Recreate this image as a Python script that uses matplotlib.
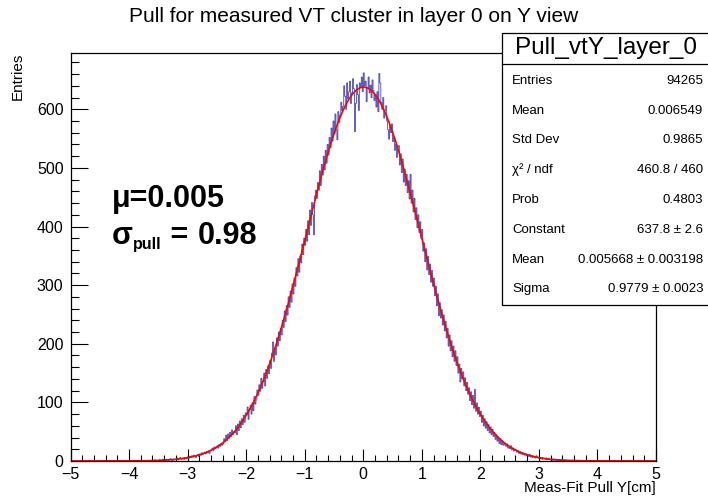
import numpy as np
import matplotlib
matplotlib.use("Agg")
import matplotlib.pyplot as plt
from matplotlib.patches import Rectangle
from matplotlib.lines import Line2D
from matplotlib.ticker import MultipleLocator

plt.rcParams['font.family'] = ['Liberation Sans', 'DejaVu Sans']

# histogram: 600 bins on [-5, 5], only [-4, 4] is filled (12 bins per row = 0.2 units)
x_min, x_max, n_bins = -5.0, 5.0, 600
counts_neg = [
    0, 0, 1, 0, 0, 0, 0, 1, 0, 0, 0, 0,
    0, 1, 0, 0, 1, 0, 0, 0, 1, 0, 1, 0,
    1, 0, 2, 1, 0, 1, 1, 2, 0, 1, 3, 1,
    2, 1, 3, 2, 1, 2, 4, 2, 1, 3, 2, 3,
    3, 5, 2, 4, 6, 3, 4, 5, 3, 6, 4, 5,
    7, 5, 8, 6, 9, 7, 10, 8, 6, 9, 11, 8,
    12, 10, 14, 11, 13, 15, 12, 16, 14, 17, 13, 18,
    19, 22, 18, 24, 21, 23, 26, 22, 28, 25, 30, 27,
    29, 38, 33, 44, 35, 46, 39, 49, 42, 53, 45, 50,
    48, 60, 45, 63, 52, 68, 57, 72, 62, 78, 66, 82,
    79, 92, 71, 88, 95, 80, 99, 86, 110, 97, 104, 121,
    112, 130, 119, 141, 124, 135, 150, 128, 156, 141, 162, 149,
    171, 158, 184, 203, 170, 192, 181, 210, 196, 220, 205, 226,
    215, 240, 228, 256, 238, 265, 249, 280, 262, 290, 271, 302,
    285, 312, 298, 330, 316, 345, 322, 350, 338, 370, 352, 380,
    368, 395, 375, 410, 386, 428, 402, 441, 420, 386, 452, 462,
    448, 475, 462, 495, 470, 506, 488, 520, 497, 530, 508, 540,
    522, 552, 535, 568, 546, 580, 558, 592, 565, 548, 596, 578,
    590, 612, 598, 605, 640, 622, 600, 645, 618, 630, 648, 610,
    628, 652, 635, 562, 610, 642, 625, 598, 645, 638, 655, 630,
]
counts_pos = [
    662, 640, 648, 613, 636, 655, 628, 641, 620, 650, 632, 615,
    625, 604, 630, 596, 661, 645, 612, 600, 620, 585, 598, 606,
    580, 565, 549, 572, 560, 575, 545, 552, 530, 540, 518, 535,
    538, 505, 524, 492, 515, 476, 498, 470, 489, 458, 478, 447,
    489, 440, 462, 425, 448, 412, 432, 398, 420, 390, 408, 380,
    395, 358, 372, 340, 362, 326, 349, 318, 336, 305, 325, 298,
    312, 282, 298, 265, 285, 248, 270, 244, 258, 232, 249, 222,
    238, 210, 226, 196, 215, 188, 205, 178, 196, 170, 188, 163,
    178, 150, 165, 135, 158, 140, 152, 128, 142, 120, 134, 114,
    125, 103, 118, 96, 112, 90, 122, 85, 99, 80, 92, 76,
    85, 66, 78, 60, 72, 56, 67, 52, 62, 48, 58, 45,
    54, 42, 49, 37, 45, 34, 41, 30, 38, 28, 35, 27,
    30, 27, 25, 29, 22, 24, 21, 26, 19, 22, 17, 20,
    18, 15, 17, 13, 16, 12, 14, 11, 13, 10, 12, 9,
    10, 8, 11, 7, 9, 6, 8, 7, 5, 9, 6, 5,
    5, 4, 6, 3, 5, 4, 3, 5, 2, 4, 3, 2,
    3, 2, 1, 3, 2, 1, 2, 1, 2, 1, 0, 2,
    1, 0, 2, 1, 1, 0, 1, 0, 1, 0, 1, 0,
    0, 1, 0, 0, 1, 0, 0, 0, 1, 0, 0, 0,
    0, 0, 0, 1, 0, 0, 0, 0, 0, 0, 1, 0,
]
empty_bins = [0] * 60

# gaus fit results from the stats box
fit_const, fit_mean, fit_sigma = 637.8, 0.005668, 0.9779

stat_names = ['Entries', 'Mean', 'Std Dev', 'χ² / ndf', 'Prob', 'Constant', 'Mean', 'Sigma']
stat_values = ['94265', '0.006549', '0.9865', '460.8 / 460', '0.4803',
               '637.8 ± 2.6', '0.005668 ± 0.003198', '0.9779 ± 0.0023']

W, H = 708, 496
counts = np.array(empty_bins + counts_neg + counts_pos + empty_bins)
edges = np.linspace(x_min, x_max, n_bins + 1)

fig = plt.figure(figsize=(W / 100, H / 100), dpi=100)
ax = fig.add_axes([70.5 / W, 1 - 461 / H, (656 - 70.5) / W, (461 - 53) / H])

ax.stairs(counts, edges, color='#4646b0', lw=0.6)
xf = np.linspace(x_min, x_max, 2000)
ax.plot(xf, fit_const * np.exp(-0.5 * ((xf - fit_mean) / fit_sigma) ** 2), color='#ff0000', lw=1.2)

ax.set_xlim(x_min, x_max)
ax.set_ylim(0, 696)
ax.xaxis.set_major_locator(MultipleLocator(1))
ax.xaxis.set_minor_locator(MultipleLocator(0.2))
ax.yaxis.set_major_locator(MultipleLocator(100))
ax.yaxis.set_minor_locator(MultipleLocator(20))
ax.tick_params(axis='x', which='major', direction='in', length=8.5, width=0.8, labelsize=11.5, pad=4)
ax.tick_params(axis='x', which='minor', direction='in', length=4.3, width=0.8)
ax.tick_params(axis='y', which='major', direction='in', length=12, width=0.8, labelsize=11.5, pad=5)
ax.tick_params(axis='y', which='minor', direction='in', length=6, width=0.8)
for s in ax.spines.values():
    s.set_linewidth(0.9)

fig.text(354 / W, 1 - 17 / H, 'Pull for measured VT cluster in layer 0 on Y view',
         ha='center', va='center', fontsize=15)
fig.text(18 / W, 1 - 53 / H, 'Entries', rotation=90, ha='center', va='top', fontsize=11)
fig.text(656 / W, 1 - 488 / H, 'Meas-Fit Pull Y[cm]', ha='right', va='center', fontsize=11)

# fit summary text
ax.text(112 / W, 1 - 207 / H, 'μ=0.005', transform=fig.transFigure,
        fontsize=22, fontweight='bold', va='baseline')
t_sig = ax.text(112 / W, 1 - 244 / H, 'σ', transform=fig.transFigure,
                fontsize=22, fontweight='bold', va='baseline')
t_sub = ax.annotate('pull', xy=(1, 0), xycoords=t_sig, xytext=(0, -0.5), textcoords='offset points',
                    fontsize=11.5, fontweight='bold', va='bottom', ha='left')
t_eq = ax.annotate(' =', xy=(1, 0), xycoords=(t_sub, t_sig), fontsize=22, fontweight='bold',
                   va='bottom', ha='left')
ax.annotate('0.98', xy=(1, 0), xycoords=(t_eq, t_sig), xytext=(7, 0), textcoords='offset points',
            fontsize=22, fontweight='bold', va='bottom', ha='left')

# stats box
box_l, box_t, box_b, sep = 502, 33, 305, 64
fig.add_artist(Rectangle((box_l / W, 1 - box_b / H), 1.0, (box_b - box_t) / H,
                         transform=fig.transFigure, facecolor='white', edgecolor='black',
                         lw=0.9, zorder=5))
fig.add_artist(Line2D([box_l / W, 1.0], [1 - sep / H, 1 - sep / H], transform=fig.transFigure,
                      color='black', lw=0.9, zorder=6))
fig.text(606 / W, 1 - 48 / H, 'Pull_vtY_layer_0', ha='center', va='center', fontsize=17.5, zorder=7)
row_y = [81, 111, 140, 170, 200, 230, 260, 289]
for name, val, yy in zip(stat_names, stat_values, row_y):
    fig.text(512 / W, 1 - yy / H, name, ha='left', va='center', fontsize=9.5, zorder=7)
    fig.text(703 / W, 1 - yy / H, val, ha='right', va='center', fontsize=9.5, zorder=7)

fig.savefig('out.png', dpi=100)
